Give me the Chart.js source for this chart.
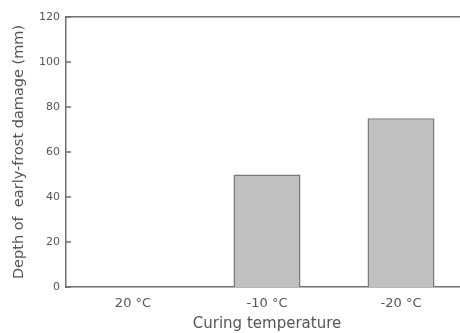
<!DOCTYPE html>
<html>
<head>
<meta charset="utf-8">
<script src="https://cdn.jsdelivr.net/npm/chart.js@4"></script>
<style>
  html, body { margin: 0; padding: 0; background: #fff; overflow: hidden; }
  #wrap { width: 460px; height: 333px; overflow: hidden; }
  canvas { display: block; }
</style>
</head>
<body>
<div id="wrap"><canvas id="c" width="468" height="333"></canvas></div>
<script>
// Curing temperature categories and measured frost damage depth
const categories = ['20 °C', '-10 °C', '-20 °C'];
const depthMm = [0, 50, 75];
const yTicks = [0, 20, 40, 60, 80, 100, 120];

const AXIS = '#6f6f6f';
const TEXT = '#555555';
const FONT = "'DejaVu Sans', sans-serif";

// Short tick marks pointing into the plot from the left axis
const inwardTicks = {
  id: 'inwardTicks',
  afterDraw(chart) {
    const y = chart.scales.y;
    const ctx = chart.ctx;
    ctx.save();
    ctx.strokeStyle = AXIS;
    ctx.lineWidth = 1.5;
    yTicks.forEach(v => {
      const py = y.getPixelForValue(v);
      ctx.beginPath();
      ctx.moveTo(y.right, py);
      ctx.lineTo(y.right + 5, py);
      ctx.stroke();
    });
    ctx.restore();
  }
};

new Chart(document.getElementById('c'), {
  type: 'bar',
  data: {
    labels: categories,
    datasets: [{
      data: depthMm,
      backgroundColor: '#c0c0c0',
      borderColor: '#7a7a7a',
      borderWidth: 1.5,
      borderSkipped: 'bottom',
      barPercentage: 0.5,
      categoryPercentage: 1.0
    }]
  },
  options: {
    responsive: false,
    animation: false,
    layout: { padding: 0 },
    plugins: { legend: { display: false }, tooltip: { enabled: false } },
    scales: {
      x: {
        position: 'bottom',
        grid: { display: false, drawTicks: false },
        border: { color: AXIS, width: 1.5 },
        ticks: { color: TEXT, font: { family: FONT, size: 13 }, padding: 9, maxRotation: 0 },
        title: {
          display: true,
          text: 'Curing temperature',
          color: TEXT,
          font: { family: FONT, size: 15 },
          padding: { top: 2, bottom: 0 }
        },
        afterFit(scale) { scale.height = 46; }
      },
      x2: {
        type: 'category',
        labels: categories,
        position: 'top',
        grid: { display: false, drawTicks: false },
        border: { color: AXIS, width: 1.5 },
        ticks: { display: false },
        afterFit(scale) { scale.height = 17; }
      },
      y: {
        min: 0,
        max: 120,
        grid: { display: false, drawTicks: false },
        border: { color: AXIS, width: 1.5 },
        afterBuildTicks(scale) { scale.ticks = yTicks.map(v => ({ value: v })); },
        ticks: { color: TEXT, font: { family: FONT, size: 11 }, padding: 6 },
        title: {
          display: true,
          text: 'Depth of  early-frost damage (mm)',
          color: TEXT,
          font: { family: FONT, size: 14.5 },
          padding: { top: 11, bottom: 0 }
        },
        afterFit(scale) { scale.width = 66; }
      }
    }
  },
  plugins: [inwardTicks]
});
</script>
</body>
</html>
